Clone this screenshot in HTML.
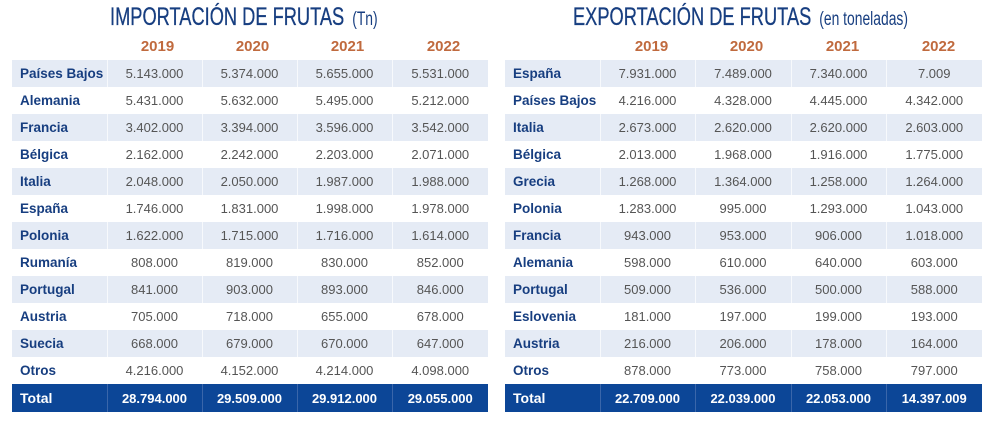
<!DOCTYPE html>
<html><head><meta charset="utf-8"><style>
body{margin:0;width:1000px;height:430px;background:#fff;font-family:"Liberation Sans",sans-serif;position:relative;overflow:hidden}
.t{position:absolute;top:3px;white-space:nowrap;color:#173e80;font-size:25px;transform:scaleX(.73);transform-origin:left top;letter-spacing:0;-webkit-text-stroke:0.3px #173e80}
.t small{font-size:19px;-webkit-text-stroke:0;margin-left:4px}
.yr{position:absolute;top:38px;color:#c06a3e;font-weight:bold;font-size:15px;width:95px;text-align:center}
table{position:absolute;top:60px;border-collapse:collapse;table-layout:fixed}
td{height:27px;padding:0;font-size:13px;color:#555;text-align:center;border-left:1px solid rgba(255,255,255,.7)}
td:first-child{text-align:left;padding-left:8px;color:#173e80;font-weight:bold;font-size:13.5px;border-left:none;white-space:nowrap}
tr:nth-child(odd) td{background:#e5ebf5}
tr.tot td{background:#0c4697;color:#fff;font-weight:bold;font-size:13px;height:28px;border-left:1px solid #3a66aa}
tr.tot td:first-child{color:#fff;font-size:14px;border-left:none}
</style></head><body>
<div class="t" style="left:110px">IMPORTACIÓN DE FRUTAS <small>(Tn)</small></div>
<div class="t" style="left:573px">EXPORTACIÓN DE FRUTAS <small>(en toneladas)</small></div>
<div class="yr" style="left:110px">2019</div><div class="yr" style="left:205px">2020</div><div class="yr" style="left:300px">2021</div><div class="yr" style="left:396px">2022</div>
<div class="yr" style="left:604px">2019</div><div class="yr" style="left:699px">2020</div><div class="yr" style="left:795px">2021</div><div class="yr" style="left:891px">2022</div>
<table style="left:12px;width:476px">
<colgroup><col style="width:95px"><col style="width:95px"><col style="width:95px"><col style="width:95px"><col style="width:96px"></colgroup>
<tr><td>Países Bajos</td><td>5.143.000</td><td>5.374.000</td><td>5.655.000</td><td>5.531.000</td></tr>
<tr><td>Alemania</td><td>5.431.000</td><td>5.632.000</td><td>5.495.000</td><td>5.212.000</td></tr>
<tr><td>Francia</td><td>3.402.000</td><td>3.394.000</td><td>3.596.000</td><td>3.542.000</td></tr>
<tr><td>Bélgica</td><td>2.162.000</td><td>2.242.000</td><td>2.203.000</td><td>2.071.000</td></tr>
<tr><td>Italia</td><td>2.048.000</td><td>2.050.000</td><td>1.987.000</td><td>1.988.000</td></tr>
<tr><td>España</td><td>1.746.000</td><td>1.831.000</td><td>1.998.000</td><td>1.978.000</td></tr>
<tr><td>Polonia</td><td>1.622.000</td><td>1.715.000</td><td>1.716.000</td><td>1.614.000</td></tr>
<tr><td>Rumanía</td><td>808.000</td><td>819.000</td><td>830.000</td><td>852.000</td></tr>
<tr><td>Portugal</td><td>841.000</td><td>903.000</td><td>893.000</td><td>846.000</td></tr>
<tr><td>Austria</td><td>705.000</td><td>718.000</td><td>655.000</td><td>678.000</td></tr>
<tr><td>Suecia</td><td>668.000</td><td>679.000</td><td>670.000</td><td>647.000</td></tr>
<tr><td>Otros</td><td>4.216.000</td><td>4.152.000</td><td>4.214.000</td><td>4.098.000</td></tr>
<tr class="tot"><td>Total</td><td>28.794.000</td><td>29.509.000</td><td>29.912.000</td><td>29.055.000</td></tr>
</table>
<table style="left:505px;width:477px">
<colgroup><col style="width:95px"><col style="width:95px"><col style="width:96px"><col style="width:95px"><col style="width:96px"></colgroup>
<tr><td>España</td><td>7.931.000</td><td>7.489.000</td><td>7.340.000</td><td>7.009</td></tr>
<tr><td>Países Bajos</td><td>4.216.000</td><td>4.328.000</td><td>4.445.000</td><td>4.342.000</td></tr>
<tr><td>Italia</td><td>2.673.000</td><td>2.620.000</td><td>2.620.000</td><td>2.603.000</td></tr>
<tr><td>Bélgica</td><td>2.013.000</td><td>1.968.000</td><td>1.916.000</td><td>1.775.000</td></tr>
<tr><td>Grecia</td><td>1.268.000</td><td>1.364.000</td><td>1.258.000</td><td>1.264.000</td></tr>
<tr><td>Polonia</td><td>1.283.000</td><td>995.000</td><td>1.293.000</td><td>1.043.000</td></tr>
<tr><td>Francia</td><td>943.000</td><td>953.000</td><td>906.000</td><td>1.018.000</td></tr>
<tr><td>Alemania</td><td>598.000</td><td>610.000</td><td>640.000</td><td>603.000</td></tr>
<tr><td>Portugal</td><td>509.000</td><td>536.000</td><td>500.000</td><td>588.000</td></tr>
<tr><td>Eslovenia</td><td>181.000</td><td>197.000</td><td>199.000</td><td>193.000</td></tr>
<tr><td>Austria</td><td>216.000</td><td>206.000</td><td>178.000</td><td>164.000</td></tr>
<tr><td>Otros</td><td>878.000</td><td>773.000</td><td>758.000</td><td>797.000</td></tr>
<tr class="tot"><td>Total</td><td>22.709.000</td><td>22.039.000</td><td>22.053.000</td><td>14.397.009</td></tr>
</table>
</body></html>
